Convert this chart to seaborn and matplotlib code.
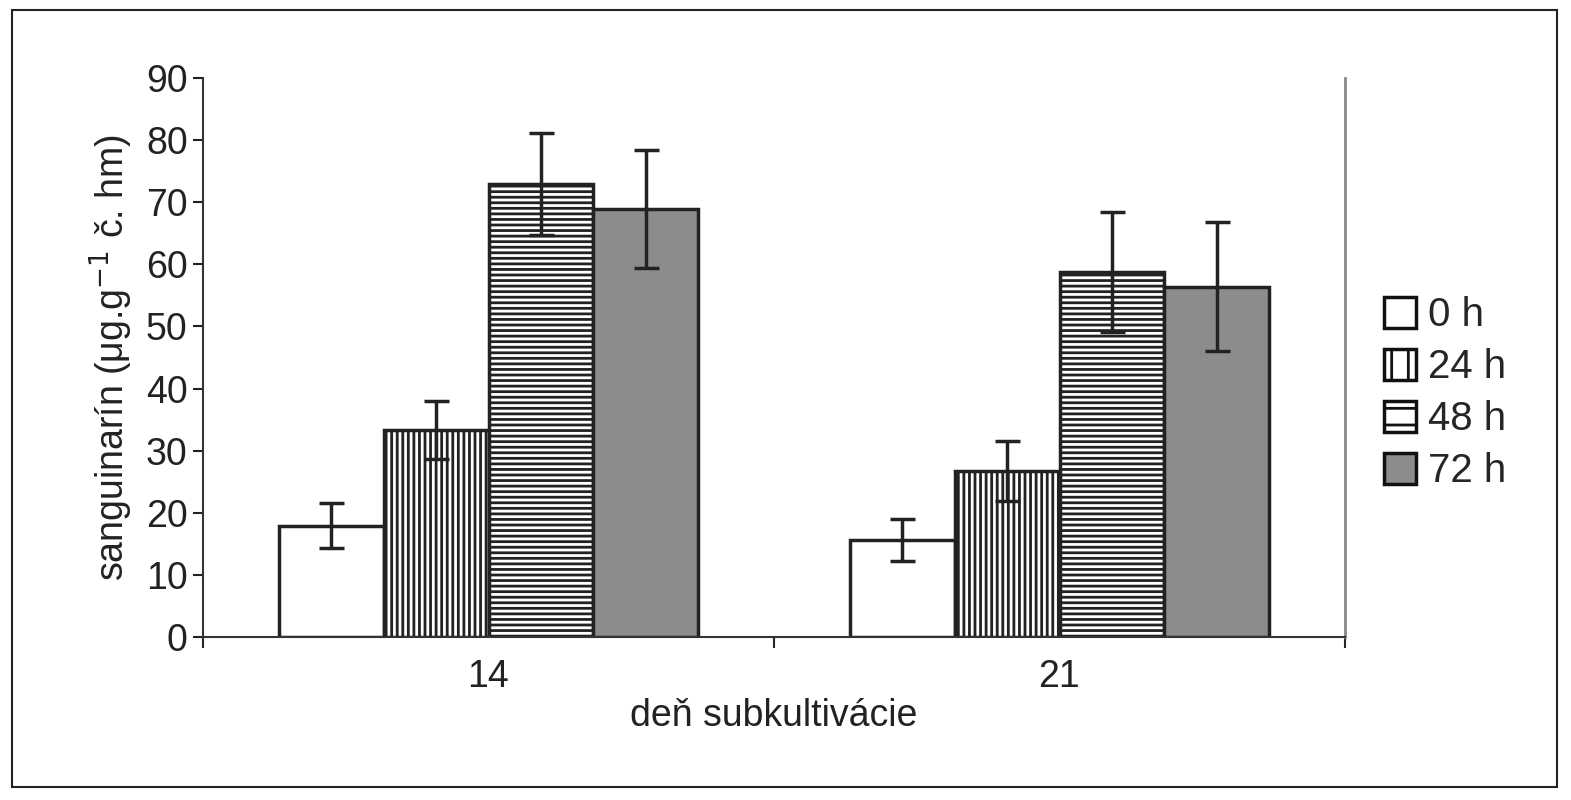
import matplotlib
matplotlib.use("Agg")
import matplotlib.pyplot as plt
import seaborn as sns
import pandas as pd
from matplotlib.patches import Rectangle

days = ["14", "21"]
times = ["0 h", "24 h", "48 h", "72 h"]
values = {"14": [17.9, 33.3, 73.0, 68.9], "21": [15.6, 26.7, 58.8, 56.4]}
errors = {"14": [3.6, 4.7, 8.2, 9.5], "21": [3.4, 4.8, 9.7, 10.4]}

rows = []
for d in days:
    for t, v, e in zip(times, values[d], errors[d]):
        rows.append({"day": d, "time": t, "val": v, "err": e})
df = pd.DataFrame(rows)

sns.set_style("white")
plt.rcParams['font.family'] = ['Liberation Sans', 'DejaVu Sans']
plt.rcParams['hatch.linewidth'] = 2.0

fig = plt.figure(figsize=(15.71, 8), dpi=100)
ax = fig.add_axes([203/1571, 1-637/800, (1345-203)/1571, (637-78)/800])

colors = ["white", "white", "white", "#8c8c8e"]
hatches = ["", "|||", "---", ""]
sns.barplot(data=df, x="day", y="val", hue="time", hue_order=times, order=days,
            palette=colors, width=0.735, gap=0, edgecolor="#222222", linewidth=2.5,
            errorbar=None, ax=ax, legend=False)

for i, t in enumerate(times):
    cont = ax.containers[i]
    for j, (bar, d) in enumerate(zip(cont, days)):
        bar.set_hatch(hatches[i])
        cx = bar.get_x() + bar.get_width() / 2
        ax.errorbar(cx, values[d][i], yerr=errors[d][i], fmt="none",
                    ecolor="#222222", elinewidth=2.5, capsize=9, capthick=2.5, zorder=5)

fs = 27
ax.set_xlim(-0.5, 1.5)
ax.set_ylim(0, 90)
ax.set_yticks(range(0, 91, 10))
ax.tick_params(axis="y", labelsize=fs, length=7, width=1.5, direction="out", left=True, pad=4, colors="#222222")
ax.tick_params(axis="x", labelsize=fs, length=0, pad=16, colors="#222222")
ax.set_xticks([-0.5, 0.5, 1.5], minor=True)
ax.tick_params(axis="x", which="minor", length=8, width=1.5, bottom=True, direction="out")
ax.spines["top"].set_visible(False)
ax.spines["left"].set_linewidth(1.5)
ax.spines["bottom"].set_linewidth(1.5)
ax.spines["left"].set_color("#333333")
ax.spines["bottom"].set_color("#333333")
ax.spines["right"].set_color("#888888")
ax.spines["right"].set_linewidth(2)
ax.set_xlabel("deň subkultivácie", fontsize=fs, color="#222222", labelpad=2)
ax.set_ylabel("sanguinarín (μg.g$^{-1}$ č. hm)", fontsize=fs, color="#222222", labelpad=8)

handles = [Rectangle((0, 0), 1, 1, facecolor=c, edgecolor="#111111", linewidth=2.5, hatch=h)
           for c, h in zip(colors, ["", "|", "-", ""])]
fig.legend(handles, times, loc="upper left", bbox_to_anchor=(1368/1571, 1-280/800),
           frameon=False, fontsize=29, handlelength=0.8, handleheight=0.8,
           handletextpad=0.3, labelspacing=0.35, borderaxespad=0)

fig.patches.append(Rectangle((12/1571, 1-787/800), (1557-12)/1571, (787-10)/800,
                             transform=fig.transFigure, fill=False, edgecolor="#222222", linewidth=1.5))
fig.savefig("out.png", dpi=100)
